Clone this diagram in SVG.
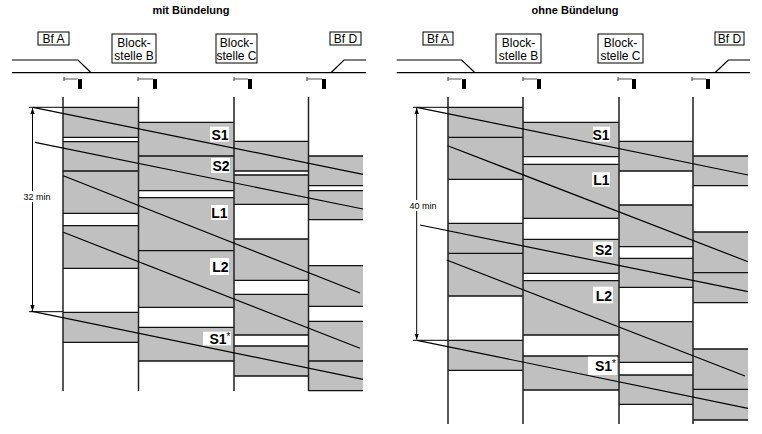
<svg xmlns="http://www.w3.org/2000/svg" width="762" height="434" viewBox="0 0 762 434">
<style>
.t{font-family:"Liberation Sans",Arial,sans-serif;fill:#000}
.title{font-size:11px;font-weight:bold;text-anchor:middle}
.st{font-size:12px;text-anchor:middle}
.lab{font-size:14px;font-weight:bold;text-anchor:end}
.sup{font-size:10px;font-weight:normal}
.dim{font-size:9px;text-anchor:middle}
.box{fill:#fff;stroke:#000;stroke-width:1}
.trk{fill:none;stroke:#000;stroke-width:1.2}
.sigl{stroke:#555;stroke-width:1.2;fill:none}
.bar{fill:#000}
.col{stroke:#222;stroke-width:1.5}
.blk{fill:#c0c0c0;stroke:none}
.edge{fill:none;stroke:#111;stroke-width:1.3}
.path{fill:none;stroke:#000;stroke-width:1.2}
.dl{fill:none;stroke:#000;stroke-width:1}
.wb{fill:#fff}
</style>
<defs>
<marker id="ah" viewBox="0 0 6 6" refX="6" refY="3" markerWidth="6" markerHeight="6" orient="auto">
<path d="M0,0.8 L6,3 L0,5.2 Z" fill="#000"/>
</marker>
</defs>

<!-- LEFT PANEL -->
<g id="left-panel">
<text class="t title" x="191" y="14">mit Bündelung</text>
<g id="L-track">
<path class="trk" d="M12,60 H78 L91,72.7 M12,72.7 H366 M331,72.7 L344,60 H366"/>
</g>
<g id="L-bfA"><rect class="box" x="38" y="32" width="31" height="13"/><text class="t st" x="53.5" y="43">Bf A</text></g>
<g id="L-blockB"><rect class="box" x="112" y="34" width="44" height="29"/><text class="t st" x="134" y="47">Block-</text><text class="t st" x="134" y="60">stelle B</text></g>
<g id="L-blockC"><rect class="box" x="216" y="34" width="41" height="29"/><text class="t st" x="236.5" y="47">Block-</text><text class="t st" x="236.5" y="60">stelle C</text></g>
<g id="L-bfD"><rect class="box" x="330" y="32" width="31" height="13"/><text class="t st" x="345.5" y="43">Bf D</text></g>
<g id="L-signals">
<path class="sigl" d="M64,77 V81 M64,79 H78 M138,77 V81 M138,79 H153 M234,77 V81 M234,79 H248 M307,77 V81 M307,79 H322"/>
<rect class="bar" x="78" y="79" width="4" height="10"/>
<rect class="bar" x="153" y="79" width="4" height="10"/>
<rect class="bar" x="248" y="79" width="4" height="10"/>
<rect class="bar" x="322" y="79" width="4" height="10"/>
</g>
<g id="L-blocks">
<rect class="blk" x="63" y="107.3" width="75.5" height="30"/>
<rect class="blk" x="63" y="141.7" width="75.5" height="71.6"/>
<rect class="blk" x="63" y="225.7" width="75.5" height="42.6"/>
<rect class="blk" x="63" y="312.3" width="75.5" height="30"/>
<rect class="blk" x="138.5" y="122.3" width="95.5" height="68.4"/>
<rect class="blk" x="138.5" y="197.7" width="95.5" height="109.6"/>
<rect class="blk" x="138.5" y="327.3" width="95.5" height="33.7"/>
<rect class="blk" x="234" y="141.3" width="74.5" height="29.7"/>
<rect class="blk" x="234" y="175" width="74.5" height="29.3"/>
<rect class="blk" x="234" y="239" width="74.5" height="41.3"/>
<rect class="blk" x="234" y="294.3" width="74.5" height="40.7"/>
<rect class="blk" x="234" y="346" width="74.5" height="30"/>
<rect class="blk" x="308.5" y="156" width="54.5" height="29.7"/>
<rect class="blk" x="308.5" y="190.7" width="54.5" height="29"/>
<rect class="blk" x="308.5" y="265.7" width="54.5" height="40.6"/>
<rect class="blk" x="308.5" y="321.3" width="54.5" height="69.4"/>
<path class="edge" d="M63,107.3 H138.5 M63,137.3 H138.5 M63,141.7 H138.5 M63,171 H138.5 M63,213.3 H138.5 M63,225.7 H138.5 M63,268.3 H138.5 M63,312.3 H138.5 M63,342.3 H138.5
M138.5,122.3 H234 M138.5,156 H234 M138.5,190.7 H234 M138.5,197.7 H234 M138.5,250.7 H234 M138.5,307.3 H234 M138.5,327.3 H234 M138.5,361 H234
M234,141.3 H308.5 M234,171 H308.5 M234,175 H308.5 M234,204.3 H308.5 M234,239 H308.5 M234,280.3 H308.5 M234,294.3 H308.5 M234,335 H308.5 M234,346 H308.5 M234,376 H308.5
M308.5,156 H363 M308.5,185.7 H363 M308.5,190.7 H363 M308.5,219.7 H363 M308.5,265.7 H363 M308.5,306.3 H363 M308.5,321.3 H363 M308.5,361 H363 M308.5,390.7 H363"/>
</g>
<g id="L-columns">
<path class="col" d="M63,97 V391 M138.5,97 V391 M234,97 V391 M308.5,97 V391"/>
</g>
<g id="L-paths">
<path class="path" d="M33,107.3 L363,174.3 M35,142.3 L363,209 M63.3,175.7 L360,293 M63.3,232.3 L360,348.3 M31,311.2 L363,379.3"/>
</g>
<g id="L-dim">
<path class="dl" d="M29,107.3 H63 M29,311.7 H63"/>
<path class="dl" d="M32.5,205 V108" marker-end="url(#ah)"/>
<path class="dl" d="M32.5,192 V311" marker-end="url(#ah)"/>
<rect class="wb" x="21" y="191" width="32" height="11"/>
<text class="t dim" x="37" y="199.5">32 min</text>
</g>
<g id="L-labels">
<rect class="wb" x="210" y="126.7" width="19" height="15"/><text class="t lab" x="228.5" y="139.5">S1</text>
<rect class="wb" x="211" y="158" width="19" height="15"/><text class="t lab" x="229.5" y="171">S2</text>
<rect class="wb" x="211" y="205" width="17" height="15"/><text class="t lab" x="227.5" y="218">L1</text>
<rect class="wb" x="210" y="258" width="19" height="17"/><text class="t lab" x="228.5" y="272">L2</text>
<rect class="wb" x="203" y="331.7" width="28" height="13.6"/><text class="t lab" x="230.5" y="344">S1<tspan class="sup" dy="-4">*</tspan></text>
</g>
</g>

<!-- RIGHT PANEL -->
<g id="right-panel">
<text class="t title" x="575" y="14">ohne Bündelung</text>
<g id="R-track">
<path class="trk" d="M396.7,60 H461.7 L475,72.7 M396.7,72.7 H750 M715,72.7 L728.3,60 H750"/>
</g>
<g id="R-bfA"><rect class="box" x="423" y="32" width="30" height="13"/><text class="t st" x="438" y="43">Bf A</text></g>
<g id="R-blockB"><rect class="box" x="496" y="34" width="45" height="29"/><text class="t st" x="518.5" y="47">Block-</text><text class="t st" x="518.5" y="60">stelle B</text></g>
<g id="R-blockC"><rect class="box" x="598" y="34" width="45" height="29"/><text class="t st" x="620.5" y="47">Block-</text><text class="t st" x="620.5" y="60">stelle C</text></g>
<g id="R-bfD"><rect class="box" x="715" y="32" width="29" height="13"/><text class="t st" x="729.5" y="43">Bf D</text></g>
<g id="R-signals">
<path class="sigl" d="M448,77 V81 M448,79 H462 M523,77 V81 M523,79 H537 M618,77 V81 M618,79 H632 M692,77 V81 M692,79 H706"/>
<rect class="bar" x="462" y="79" width="4" height="10"/>
<rect class="bar" x="537" y="79" width="4" height="10"/>
<rect class="bar" x="632" y="79" width="4" height="10"/>
<rect class="bar" x="706" y="79" width="4" height="10"/>
</g>
<g id="R-blocks">
<rect class="blk" x="448" y="107.3" width="75" height="72"/>
<rect class="blk" x="448" y="223.3" width="75" height="72.7"/>
<rect class="blk" x="448" y="340.3" width="75" height="30"/>
<rect class="blk" x="523" y="122.3" width="96" height="34.4"/>
<rect class="blk" x="523" y="164.3" width="96" height="54"/>
<rect class="blk" x="523" y="239.3" width="96" height="34"/>
<rect class="blk" x="523" y="280.7" width="96" height="54.3"/>
<rect class="blk" x="523" y="356" width="96" height="34"/>
<rect class="blk" x="619" y="141.3" width="74" height="29.7"/>
<rect class="blk" x="619" y="205" width="74" height="41.7"/>
<rect class="blk" x="619" y="258.3" width="74" height="29"/>
<rect class="blk" x="619" y="321.7" width="74" height="40.6"/>
<rect class="blk" x="619" y="375" width="74" height="29.3"/>
<rect class="blk" x="693" y="156" width="55" height="29.7"/>
<rect class="blk" x="693" y="232" width="55" height="70.7"/>
<rect class="blk" x="693" y="349" width="55" height="71"/>
<path class="edge" d="M448,107.3 H523 M448,137.3 H523 M448,179.3 H523 M448,223.3 H523 M448,253.3 H523 M448,296 H523 M448,340.3 H523 M448,370.3 H523
M523,122.3 H619 M523,156.7 H619 M523,164.3 H619 M523,218.3 H619 M523,239.3 H619 M523,273.3 H619 M523,280.7 H619 M523,335 H619 M523,356 H619 M523,390 H619
M619,141.3 H693 M619,171 H693 M619,205 H693 M619,246.7 H693 M619,258.3 H693 M619,287.3 H693 M619,321.7 H693 M619,362.3 H693 M619,375 H693 M619,404.3 H693
M693,156 H748 M693,185.7 H748 M693,232 H748 M693,272.7 H748 M693,302.7 H748 M693,349 H748 M693,389.3 H748 M693,420 H748"/>
</g>
<g id="R-columns">
<path class="col" d="M448,97 V424 M523,97 V424 M619,97 V424 M693,97 V424"/>
</g>
<g id="R-paths">
<path class="path" d="M416.7,107.3 L748,175 M447.7,145.7 L748,261.7 M420,225 L748,291.7 M446.7,260 L745,376 M417,340.3 L748,408.3"/>
</g>
<g id="R-dim">
<path class="dl" d="M413,107.3 H448 M413,340.3 H448"/>
<path class="dl" d="M416.7,210 V108" marker-end="url(#ah)"/>
<path class="dl" d="M416.7,200 V339.5" marker-end="url(#ah)"/>
<rect class="wb" x="407" y="200" width="32" height="11"/>
<text class="t dim" x="423" y="209">40 min</text>
</g>
<g id="R-labels">
<rect class="wb" x="593" y="126.7" width="17" height="15"/><text class="t lab" x="609.5" y="139.5">S1</text>
<rect class="wb" x="592" y="172.3" width="18" height="14.4"/><text class="t lab" x="609.5" y="185">L1</text>
<rect class="wb" x="593" y="241.7" width="20" height="15"/><text class="t lab" x="612" y="254.5">S2</text>
<rect class="wb" x="593" y="286.7" width="20" height="16.6"/><text class="t lab" x="612" y="300.5">L2</text>
<rect class="wb" x="588" y="356.7" width="29" height="18.3"/><text class="t lab" x="616" y="371">S1<tspan class="sup" dy="-4">*</tspan></text>
</g>
</g>
</svg>
